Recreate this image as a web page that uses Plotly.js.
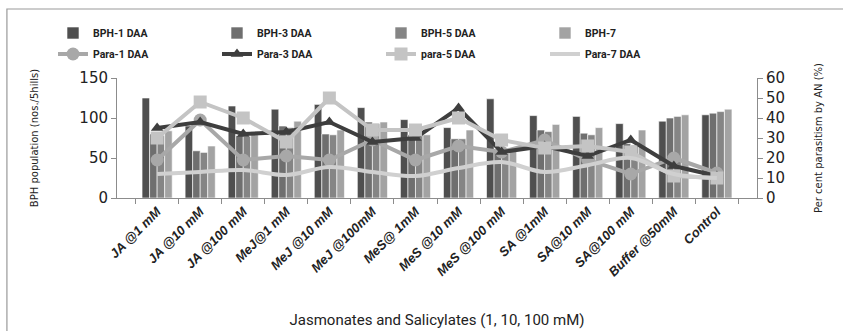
<!DOCTYPE html>
<html><head><meta charset="utf-8">
<script src="https://cdn.plot.ly/plotly-3.0.1.min.js"></script>
<style>body{margin:0;background:#fff}#c{width:843px;height:331px}</style>
</head><body><div id="c"></div>
<script>
const categories = ["JA @1 mM","JA @10 mM","JA @100 mM","MeJ@1 mM","MeJ @10 mM","MeJ @100mM","MeS@ 1mM","MeS @10 mM","MeS @100 mM","SA @1mM","SA@10 mM","SA@100 mM","Buffer @50mM","Control"];
const bph1 = [125, 90, 115, 111, 117, 113, 98, 88, 124, 103, 102, 93, 96, 104];
const bph3 = [80, 59, 78, 90, 80, 95, 79, 74, 58, 85, 81, 68, 100, 106];
const bph5 = [78, 57, 77, 88, 79, 93, 79, 74, 57, 83, 79, 66, 102, 108];
const bph7 = [84, 65, 83, 96, 85, 95, 79, 85, 60, 92, 88, 85, 104, 111];
const para1 = [19, 39, 19, 21, 19, 29, 19, 26, 23, 29, 19, 12, 20, 12.5];
const para3 = [35, 38, 32, 33, 38, 28, 30, 45, 23, 26, 21, 29, 16, 11];
const para5 = [30, 48, 40, 28, 50, 34, 34, 40, 29, 25, 26, 23, 11, 10];
const para7 = [12, 13, 14, 11.5, 15.5, 13, 11, 15, 18, 13, 16.4, 20, 12, 10];

const barNames = ["BPH-1 DAA","BPH-3 DAA","BPH-5 DAA","BPH-7"];
const barColors = ["#4f4f4f","#6f6f6f","#858585","#a3a3a3"];
const barVals = [bph1, bph3, bph5, bph7];
const lineNames = ["Para-1 DAA","Para-3 DAA","para-5 DAA","Para-7 DAA"];
const lineVals = [para1, para3, para5, para7];
const lineColors = ["#a8a8a8","#3e3e3e","#c4c4c4","#d0d0d0"];
const lineSymbols = ["circle","triangle-up","square","line-ew"];

const traces = [];
barVals.forEach((v,i)=>traces.push({
  type:"bar", x:categories, y:v, name:barNames[i], yaxis:"y",
  marker:{color:barColors[i], line:{color:"#ffffff", width:0.6}},
  legend:"legend"
}));
lineVals.forEach((v,i)=>traces.push({
  type:"scatter", mode: i===3 ? "lines" : "lines+markers", x:categories, y:v, name:lineNames[i], yaxis:"y2",
  line:{color:lineColors[i], width: 4, shape: i===3 ? "spline" : "linear"},
  marker:{symbol:lineSymbols[i], size: i===1 ? 11 : 13, color:lineColors[i]},
  legend:"legend2"
}));

const tickFont = {family:"DejaVu Sans, Verdana, sans-serif", size:15, color:"#222"};
const legFont = {family:"Roboto, Liberation Sans Narrow, sans-serif", size:10.5, color:"#222", weight:"bold"};
const layout = {
  width:843, height:331,
  margin:{l:117, r:86, t:78, b:133},
  paper_bgcolor:"#fff", plot_bgcolor:"#fff",
  barmode:"group", bargap:0.3, bargroupgap:0,
  showlegend:true,
  legend:{orientation:"h", x:-0.1, y:1.375, xanchor:"left", yanchor:"middle", entrywidth:119, entrywidthmode:"pixels", font:legFont, bgcolor:"rgba(0,0,0,0)", itemwidth:30, tracegroupgap:0},
  legend2:{orientation:"h", x:-0.1, y:1.2, xanchor:"left", yanchor:"middle", entrywidth:119, entrywidthmode:"pixels", font:legFont, bgcolor:"rgba(0,0,0,0)", itemwidth:30},
  xaxis:{type:"category", showline:true, linecolor:"#8c8c8c", linewidth:1, ticks:"outside", tickson:"boundaries", ticklen:5, tickcolor:"#8c8c8c",
    tickangle:-45, tickfont:{family:"Liberation Sans, Arial, sans-serif", size:13, color:"#222", weight:"bold", style:"italic"},
    title:{text:"Jasmonates and Salicylates (1, 10, 100 mM)", font:{family:"Roboto, sans-serif", size:15, color:"#222"}, standoff:36},
    showgrid:false, zeroline:false},
  yaxis:{range:[0,150], dtick:50, showline:true, linecolor:"#8c8c8c", ticks:"outside", ticklen:5, tickcolor:"#8c8c8c", tickfont:tickFont,
    title:{text:"BPH population (nos./5hills)", font:{family:"DejaVu Sans, sans-serif", size:10, color:"#222"}, standoff:38},
    showgrid:false, zeroline:false},
  yaxis2:{range:[0,60], dtick:10, overlaying:"y", side:"right", showline:true, linecolor:"#8c8c8c", ticks:"outside", ticklen:5, tickcolor:"#8c8c8c", tickfont:tickFont,
    title:{text:"Per cent parasitism by AN (%)", font:{family:"DejaVu Sans, sans-serif", size:10, color:"#222"}, standoff:30},
    showgrid:false, zeroline:false},
  shapes:[{type:"rect", xref:"paper", yref:"paper", x0:-0.172, x1:1.2, y0:-1.3, y1:1.575, line:{color:"#9a9a9a", width:1.2}, layer:"below"}]
};
Plotly.newPlot("c", traces, layout, {displayModeBar:false, staticPlot:true});
</script></body></html>
